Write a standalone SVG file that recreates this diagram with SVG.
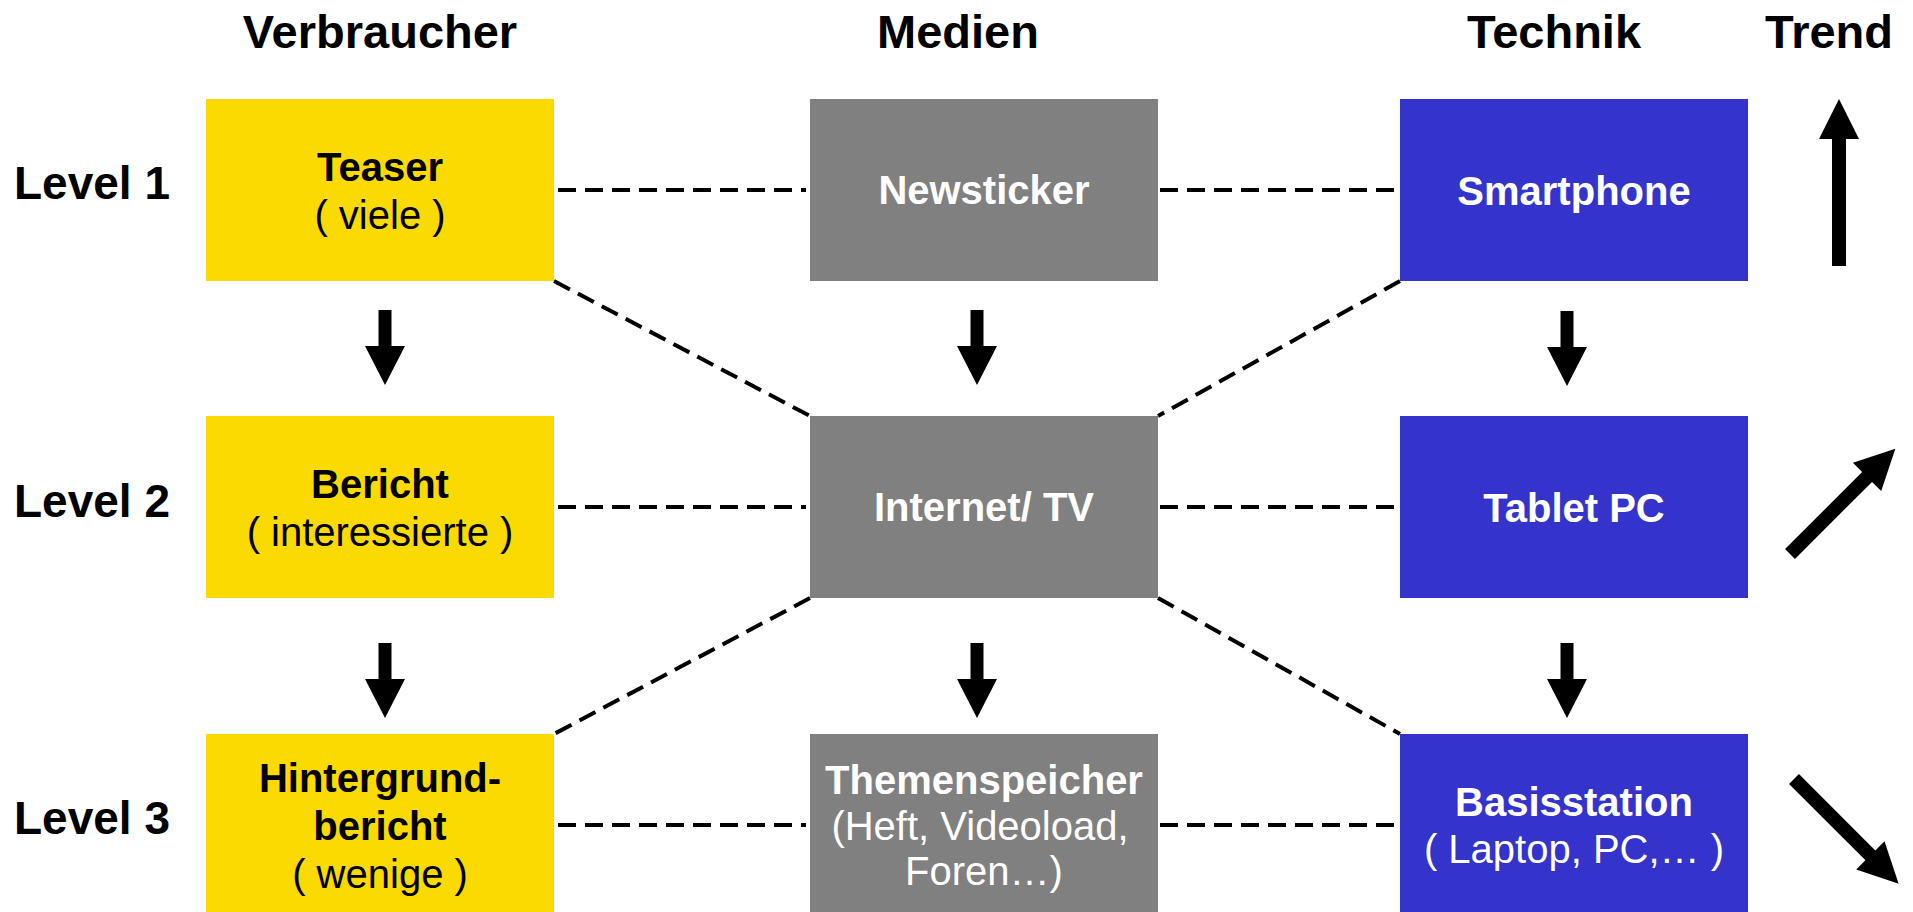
<svg xmlns="http://www.w3.org/2000/svg" width="1913" height="912" viewBox="0 0 1913 912">
<style>
.hdr{font-family:"Liberation Sans",Arial,sans-serif;font-weight:bold;font-size:47px;fill:#000;text-anchor:middle}
.lvl{font-family:"Liberation Sans",Arial,sans-serif;font-weight:bold;font-size:46px;fill:#000}
.t{font-family:"Liberation Sans",Arial,sans-serif;font-size:40px;text-anchor:middle}
.b{font-weight:bold}
.dk{fill:#000}
.wh{fill:#fff}
.y{fill:#FADA00}
.g{fill:#808080}
.bl{fill:#3434CC}
.dash{stroke:#000;stroke-width:4;stroke-dasharray:18 9;fill:none}
.arr{fill:#000}
</style>
<rect width="1913" height="912" fill="#fff"/>
<g id="headers">
<text class="hdr" x="380" y="48">Verbraucher</text>
<text class="hdr" x="958" y="48">Medien</text>
<text class="hdr" x="1554" y="48">Technik</text>
<text class="hdr" x="1829" y="48">Trend</text>
</g>
<g id="levels">
<text class="lvl" x="14" y="199">Level 1</text>
<text class="lvl" x="14" y="517">Level 2</text>
<text class="lvl" x="14" y="834">Level 3</text>
</g>
<g id="connectors">
<line class="dash" x1="558" y1="190" x2="806" y2="190"/>
<line class="dash" x1="1160" y1="190" x2="1398" y2="190"/>
<line class="dash" x1="558" y1="507" x2="806" y2="507"/>
<line class="dash" x1="1160" y1="507" x2="1398" y2="507"/>
<line class="dash" x1="558" y1="825" x2="806" y2="825"/>
<line class="dash" x1="1160" y1="825" x2="1398" y2="825"/>
<line class="dash" x1="554" y1="281" x2="810" y2="416"/>
<line class="dash" x1="1400" y1="281" x2="1158" y2="416"/>
<line class="dash" x1="810" y1="598" x2="554" y2="734"/>
<line class="dash" x1="1158" y1="598" x2="1400" y2="734"/>
<path class="arr" d="M378.5,310 h13 v36 h13.5 l-20,39 l-20,-39 h13.5 z"/>
<path class="arr" d="M378.5,643 h13 v36 h13.5 l-20,39 l-20,-39 h13.5 z"/>
<path class="arr" d="M970.5,310 h13 v36 h13.5 l-20,39 l-20,-39 h13.5 z"/>
<path class="arr" d="M970.5,643 h13 v36 h13.5 l-20,39 l-20,-39 h13.5 z"/>
<path class="arr" d="M1560.5,311 h13 v36 h13.5 l-20,39 l-20,-39 h13.5 z"/>
<path class="arr" d="M1560.5,643 h13 v36 h13.5 l-20,39 l-20,-39 h13.5 z"/>
</g>
<g id="trend">
<path class="arr" d="M1832,266 v-127 h-13 l20,-40 l20,40 h-13 v127 z"/>
<polygon class="arr" transform="translate(1790,554) rotate(-45)" points="0,-7 109,-7 109,-20 149,0 109,20 109,7 0,7"/>
<polygon class="arr" transform="translate(1794,779) rotate(45)" points="0,-7 108,-7 108,-20 148,0 108,20 108,7 0,7"/>
</g>
<g id="teaser">
<rect class="y" x="206" y="99" width="348" height="182"/>
<text class="t b dk" x="380" y="181">Teaser</text>
<text class="t dk" x="380" y="229">( viele )</text>
</g>
<g id="bericht">
<rect class="y" x="206" y="416" width="348" height="182"/>
<text class="t b dk" x="380" y="498">Bericht</text>
<text class="t dk" x="380" y="546">( interessierte )</text>
</g>
<g id="hintergrund">
<rect class="y" x="206" y="734" width="348" height="182"/>
<text class="t b dk" x="380" y="792">Hintergrund-</text>
<text class="t b dk" x="380" y="840">bericht</text>
<text class="t dk" x="380" y="888">( wenige )</text>
</g>
<g id="newsticker">
<rect class="g" x="810" y="99" width="348" height="182"/>
<text class="t b wh" x="984" y="204">Newsticker</text>
</g>
<g id="internet">
<rect class="g" x="810" y="416" width="348" height="182"/>
<text class="t b wh" x="984" y="521">Internet/ TV</text>
</g>
<g id="themenspeicher">
<rect class="g" x="810" y="734" width="348" height="182"/>
<text class="t b wh" x="984" y="794">Themenspeicher</text>
<text class="t wh" x="980" y="840">(Heft, Videoload,</text>
<text class="t wh" x="984" y="885">Foren…)</text>
</g>
<g id="smartphone">
<rect class="bl" x="1400" y="99" width="348" height="182"/>
<text class="t b wh" x="1574" y="205">Smartphone</text>
</g>
<g id="tablet">
<rect class="bl" x="1400" y="416" width="348" height="182"/>
<text class="t b wh" x="1574" y="522">Tablet PC</text>
</g>
<g id="basisstation">
<rect class="bl" x="1400" y="734" width="348" height="182"/>
<text class="t b wh" x="1574" y="816">Basisstation</text>
<text class="t wh" x="1574" y="863">( Laptop, PC,… )</text>
</g>
</svg>
